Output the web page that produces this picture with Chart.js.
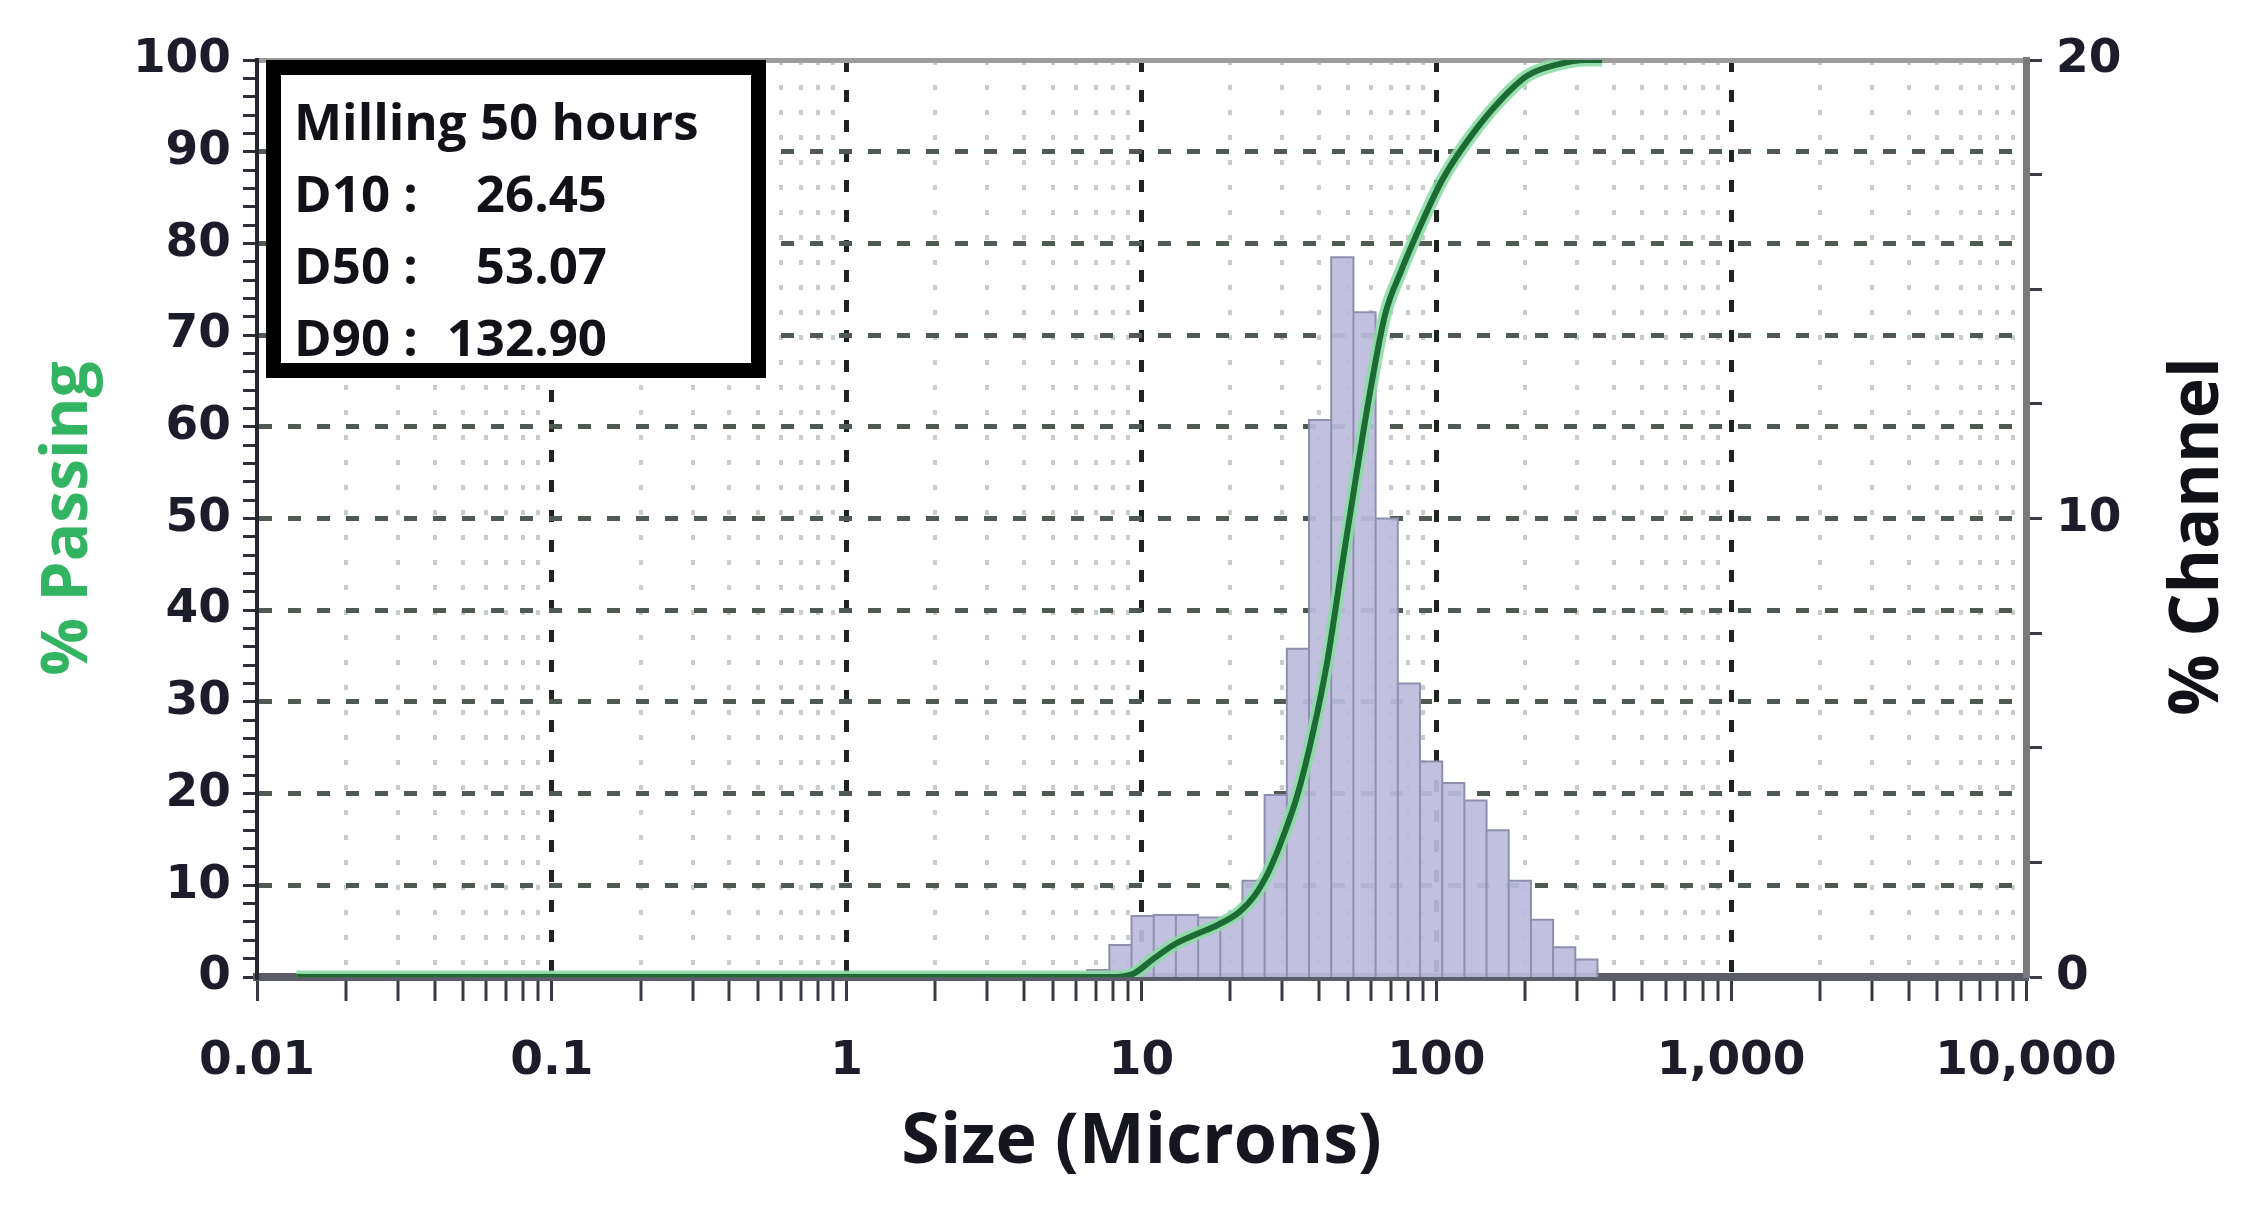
<!DOCTYPE html>
<html>
<head>
<meta charset="utf-8">
<script src="https://cdn.jsdelivr.net/npm/chart.js@4.4.1/dist/chart.umd.min.js"></script>
<style>
html,body{margin:0;padding:0;background:#ffffff;overflow:hidden}
#wrap{width:2261px;height:1209px;position:relative}
</style>
</head>
<body>
<div id="wrap"><canvas id="c" width="2261" height="1209"></canvas></div>
<script>
// ---- data ----
const binEdges = [6.54, 7.78, 9.25, 11.0, 13.08, 15.56, 18.5, 22.0, 26.16, 31.11, 37.0, 44.0, 52.33, 62.23, 74.0, 88.0, 104.7, 124.5, 148.0, 176.0, 209.3, 248.9, 296.0, 352.0];
const channelPct = [0.15, 0.7, 1.33, 1.35, 1.35, 1.3, 1.3, 2.1, 3.97, 7.16, 12.15, 15.7, 14.5, 10.0, 6.4, 4.7, 4.23, 3.85, 3.2, 2.1, 1.25, 0.65, 0.38];
const passSize = [0.0136, 1, 7.85, 9.3, 11.0, 13.0, 15.4, 18.2, 21.5, 24.1, 27.0, 30.3, 33.9, 38.0, 42.6, 47.7, 53.5, 59.9, 67.1, 75.3, 89.1, 105, 131, 165, 204, 257, 323, 365];
const passPct  = [0, 0, 0, 0.3, 2.0, 3.6, 4.7, 5.7, 7.1, 8.8, 11.5, 15.4, 20.0, 26.4, 34.3, 44.5, 54.7, 64.2, 72.3, 76.7, 82.2, 87.0, 91.7, 95.6, 98.3, 99.5, 100, 100];
const xTickValues = [0.01, 0.1, 1, 10, 100, 1000, 10000];
const xTickLabels = ['0.01', '0.1', '1', '10', '100', '1,000', '10,000'];
const leftTickLabels = [0, 10, 20, 30, 40, 50, 60, 70, 80, 90, 100];
const rightTickLabels = [0, 10, 20];
const infoTitle = 'Milling 50 hours';
const infoLabels = ['D10 :', 'D50 :', 'D90 :'];
const infoValues = ['26.45', '53.07', '132.90'];
const xTitle = 'Size (Microns)';
const yTitle = '% Passing';
const y2Title = '% Channel';

// ---- derived structures ----
const histPts = [];
for (let i = 0; i < channelPct.length; i++) {
  const lo = binEdges[i], hi = binEdges[i + 1], h = channelPct[i];
  histPts.push({x: lo, y: 0}, {x: lo, y: h}, {x: hi, y: h}, {x: hi, y: 0});
}
const passPts = passSize.map((s, i) => ({x: s, y: passPct[i]}));
const allXTicks = [];
for (let k = 0; k < xTickValues.length; k++) {
  allXTicks.push(xTickValues[k]);
  if (k < xTickValues.length - 1) for (let m = 2; m <= 9; m++) allXTicks.push(+(m * xTickValues[k]).toPrecision(6));
}
const isDecade = v => xTickValues.indexOf(v) >= 0;

const tickFont = {family: 'DejaVu Sans', weight: 'bold', size: 47};
const tickColor = '#1c1c2a';

const overlay = {
  id: 'overlay',
  afterDraw(chart) {
    const ctx = chart.ctx, a = chart.chartArea;
    ctx.save();
    // info box
    const bx = a.left + 9, by = a.top, bw = 500, bh = 318, bwid = 15;
    ctx.fillStyle = '#ffffff';
    ctx.fillRect(bx, by, bw, bh);
    ctx.lineWidth = bwid;
    ctx.strokeStyle = '#000000';
    ctx.strokeRect(bx + bwid / 2, by + bwid / 2, bw - bwid, bh - bwid);
    ctx.fillStyle = '#111118';
    ctx.font = 'bold 51px "Open Sans"';
    ctx.textBaseline = 'alphabetic';
    ctx.textAlign = 'left';
    const tx = bx + 28;
    ctx.fillText(infoTitle, tx, by + 80);
    for (let i = 0; i < infoLabels.length; i++) {
      const yy = by + 152 + i * 72;
      ctx.textAlign = 'left';
      ctx.fillText(infoLabels[i], tx, yy);
      ctx.textAlign = 'right';
      ctx.fillText(infoValues[i], bx + 341, yy);
    }
    // right axis title (reads bottom-to-top)
    ctx.translate(2199, (a.top + a.bottom) / 2 + 18);
    ctx.rotate(-Math.PI / 2);
    ctx.textAlign = 'center';
    ctx.textBaseline = 'middle';
    ctx.font = 'bold 68px "Open Sans"';
    ctx.fillStyle = '#111118';
    ctx.fillText(y2Title, 0, 0);
    ctx.restore();
  }
};

new Chart(document.getElementById('c'), {
  type: 'line',
  data: {
    datasets: [
      {label: 'core', data: passPts, xAxisID: 'x', yAxisID: 'y', borderColor: '#1d6b34', borderWidth: 6,
       cubicInterpolationMode: 'monotone', pointRadius: 0, fill: false, order: 1},
      {label: 'halo', data: passPts, xAxisID: 'x', yAxisID: 'y', borderColor: 'rgba(140,220,165,0.9)', borderWidth: 13,
       cubicInterpolationMode: 'monotone', pointRadius: 0, fill: false, order: 2},
      {label: 'channel', data: histPts, xAxisID: 'x', yAxisID: 'y2', borderColor: '#8e8eae', borderWidth: 2,
       backgroundColor: 'rgba(188,188,220,0.92)', fill: 'origin', tension: 0, pointRadius: 0, order: 3}
    ]
  },
  options: {
    responsive: false,
    animation: false,
    devicePixelRatio: 1,
    layout: {padding: 0},
    plugins: {legend: {display: false}, tooltip: {enabled: false}},
    scales: {
      x: {
        type: 'logarithmic', position: 'bottom', min: 0.01, max: 10000,
        afterBuildTicks: s => { s.ticks = allXTicks.map(v => ({value: v})); },
        afterFit: s => { s.height = 232; },
        ticks: {autoSkip: false, maxRotation: 0, minRotation: 0, padding: 33, color: tickColor, font: tickFont,
          callback: v => { const k = xTickValues.indexOf(v); return k >= 0 ? xTickLabels[k] : ''; }},
        grid: {
          color: c => { const v = c.tick.value; if (v === 0.01 || v === 10000) return 'rgba(0,0,0,0)'; return isDecade(v) ? '#1f2421' : '#c9ccc9'; },
          lineWidth: c => isDecade(c.tick.value) ? 5 : 4,
          tickColor: '#3a3a44', tickWidth: 3, tickLength: 24
        },
        border: {color: '#5a5d66', width: 8, dash: c => c.tick ? (isDecade(c.tick.value) ? [12, 18] : [5, 20]) : []},
        title: {display: true, text: xTitle, color: '#161620', font: {family: 'Open Sans', weight: 'bold', size: 70}, padding: {top: 0, bottom: 24}}
      },
      xTop: {
        type: 'logarithmic', position: 'top', min: 0.01, max: 10000,
        afterFit: s => { s.height = 60; },
        ticks: {display: false},
        grid: {display: false, drawTicks: false},
        border: {display: true, color: '#9c9c9c', width: 5}
      },
      y: {
        type: 'linear', position: 'left', min: 0, max: 100,
        afterFit: s => { s.width = 257; },
        ticks: {stepSize: 2, autoSkip: false, padding: 12, color: tickColor, font: tickFont,
          callback: v => leftTickLabels.indexOf(v) >= 0 ? String(v) : ''},
        grid: {
          color: c => { const v = c.tick.value; return (v % 10 === 0 && v > 0 && v < 100) ? '#4f5b52' : 'rgba(0,0,0,0)'; },
          lineWidth: 5, tickColor: '#2e2e36', tickWidth: 3, tickLength: 14
        },
        border: {color: '#26262e', width: 4, dash: c => c.tick ? [13, 16] : []},
        title: {display: true, text: yTitle, color: '#33b462', font: {family: 'Open Sans', weight: 'bold', size: 64}, padding: {top: 30, bottom: 0}}
      },
      y2: {
        type: 'linear', position: 'right', min: 0, max: 20,
        afterFit: s => { s.width = 235; },
        ticks: {stepSize: 2.5, autoSkip: false, padding: 14, color: tickColor, font: {family: 'DejaVu Sans', weight: 'bold', size: 47},
          callback: v => rightTickLabels.indexOf(v) >= 0 ? String(v) : ''},
        grid: {drawOnChartArea: false, tickColor: '#3a3a42', tickWidth: 3, tickLength: 16},
        border: {color: '#7a7a7a', width: 7}
      }
    }
  },
  plugins: [overlay]
});
</script>
</body>
</html>
